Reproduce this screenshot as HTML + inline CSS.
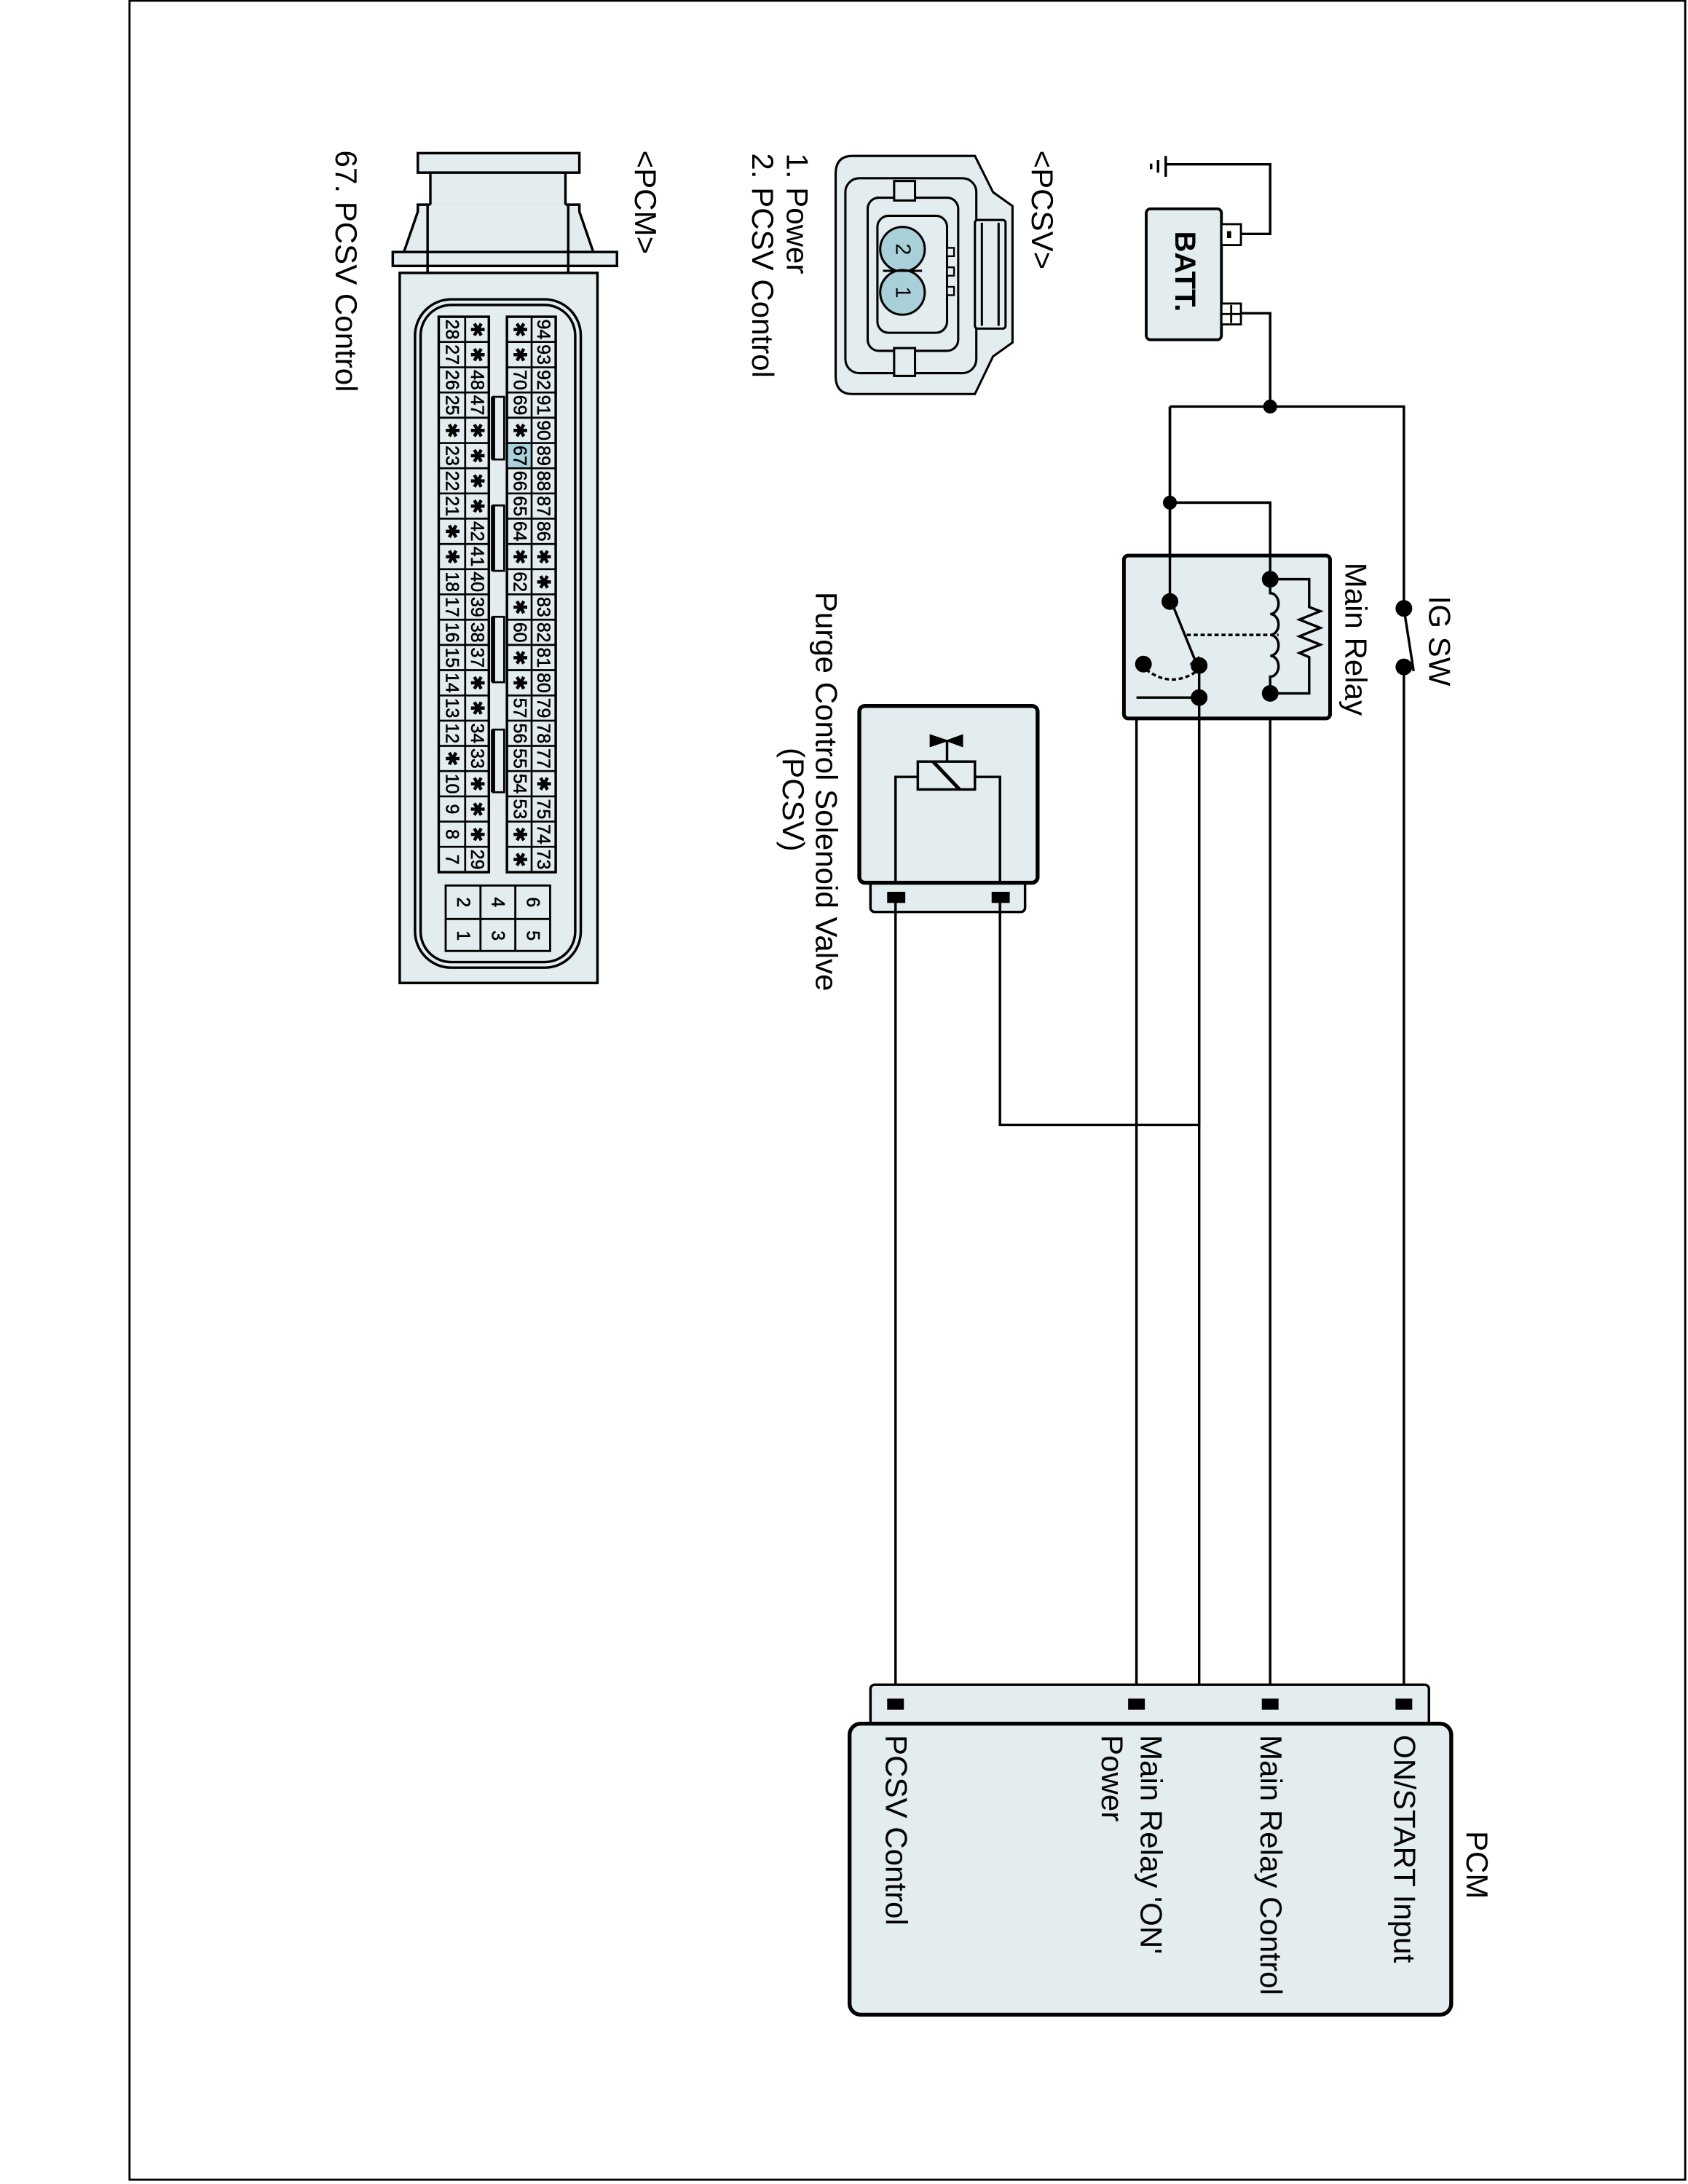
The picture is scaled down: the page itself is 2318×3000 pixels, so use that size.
<!DOCTYPE html>
<html><head><meta charset="utf-8"><style>
html,body{margin:0;padding:0;background:#fff}
svg{display:block}
text{font-family:"Liberation Sans",Arial,sans-serif;fill:#000}
</style></head><body>
<svg width="2318" height="3000" viewBox="0 0 1212 1568.6" xmlns="http://www.w3.org/2000/svg">
<rect x="0" y="0" width="1212" height="1568.6" fill="#fff"/>
<rect x="93" y="0.5" width="1117" height="1565" fill="none" stroke="#000" stroke-width="1.5"/>

<!-- ground + battery -->
<g stroke="#000" stroke-width="1.8" fill="none">
<path d="M837 112V127M831.5 115V124M826.5 117.5V121.5"/>
<path d="M837 118H912V168H891"/>
<path d="M891 225H912V292"/>
</g>
<rect x="823" y="150" width="54" height="94" rx="3" fill="#e3ecee" stroke="#000" stroke-width="2"/>
<rect x="877" y="161" width="14" height="15" fill="#fff" stroke="#000" stroke-width="1.5"/>
<rect x="881" y="166" width="3" height="5" fill="#000"/>
<rect x="877" y="218" width="14" height="15" fill="#fff" stroke="#000" stroke-width="1.5"/>
<path d="M877 225.5H891M884 219V232" stroke="#000" stroke-width="1.5"/>

<!-- wiring -->
<g stroke="#000" stroke-width="1.8" fill="none">
<path d="M840 292H1008V437"/>
<path d="M1008 479V1222"/>
<path d="M1008 437L1015 482"/>
<path d="M840 292V432"/>
<path d="M840 361H912V416"/>
<path d="M912 498V1222"/>
<path d="M861 478V808H718V643"/>
<path d="M861 501H816V1222"/>
<path d="M643 636V1222"/>
</g>

<!-- main relay -->
<rect x="807" y="399" width="148" height="117" rx="3" fill="#e3ecee" stroke="#000" stroke-width="2.6"/>
<g stroke="#000" stroke-width="1.8" fill="none">
<path d="M840 292V432"/>
<path d="M840 361H912V416"/>
<path d="M912 416V426 a6 7.5 0 0 1 0 15 a6 7.5 0 0 1 0 15 a6 7.5 0 0 1 0 15 a6 7.5 0 0 1 0 15 V498"/>
<path d="M912 416H940V436L948 439L933 445L948 451L933 457L948 463L933 469L940 472V498H912"/>
<path d="M841 432L858 474"/>
<path d="M852 456H918" stroke-dasharray="3,2"/>
<path d="M823 481Q840 494 858 483" stroke-dasharray="3,2"/>
<path d="M861 478V1222"/>
<path d="M861 501H816"/>
</g>
<path d="M854 477L862 480L861 471Z" fill="#000"/>
<circle cx="840" cy="432" r="6" fill="#000"/>
<circle cx="861" cy="478" r="6" fill="#000"/>
<circle cx="821" cy="477" r="6" fill="#000"/>
<circle cx="861" cy="501" r="6" fill="#000"/>
<circle cx="912" cy="416" r="6" fill="#000"/>
<circle cx="912" cy="498" r="6" fill="#000"/>
<circle cx="1008" cy="437" r="6" fill="#000"/>
<circle cx="1008" cy="479" r="6" fill="#000"/>
<circle cx="912" cy="292" r="5" fill="#000"/>
<circle cx="840" cy="361" r="5" fill="#000"/>

<!-- PCSV -->
<rect x="625" y="630" width="111" height="25" rx="3" fill="#e3ecee" stroke="#000" stroke-width="1.8"/>
<rect x="617" y="507" width="128" height="127" rx="4" fill="#e3ecee" stroke="#000" stroke-width="2.8"/>
<g stroke="#000" stroke-width="1.8" fill="none">
<path d="M643 634V558H659M700 558H718V634"/>
<rect x="659" y="547" width="41" height="20"/>
<path d="M670 547L689 567" stroke-width="2.6"/>
<path d="M680 547V532"/>
<path d="M643 648V660M718 648V660"/>
</g>
<path d="M668 528L680 532L668 536ZM691 528L680 532L691 536Z" fill="#000" stroke="#000" stroke-width="1"/>
<rect x="637" y="640.5" width="13" height="8" fill="#000"/>
<rect x="712" y="640.5" width="13" height="8" fill="#000"/>

<!-- PCM box -->
<rect x="625" y="1210" width="401" height="30" rx="3" fill="#e3ecee" stroke="#000" stroke-width="1.8"/>
<rect x="610" y="1238" width="432" height="209" rx="8" fill="#e3ecee" stroke="#000" stroke-width="2.8"/>
<rect x="637" y="1220" width="12" height="8" fill="#000"/>
<rect x="810" y="1220" width="12" height="8" fill="#000"/>
<rect x="906" y="1220" width="12" height="8" fill="#000"/>
<rect x="1002" y="1220" width="12" height="8" fill="#000"/>

<!-- PCSV connector -->
<g stroke="#000" stroke-width="1.6" fill="#e3ecee">
<path d="M612 112H700L713 138L727 148V246L713 256L700 283H612Q600 283 600 270V125Q600 112 612 112Z"/>
<rect x="607" y="128" width="94" height="140" rx="10"/>
<rect x="700" y="158" width="22" height="78" rx="2"/>
<path d="M705 160V234M717 160V234" fill="none"/>
<rect x="623" y="142" width="65" height="110" rx="8"/>
<rect x="630" y="155" width="50" height="84" rx="8"/>
<rect x="642" y="130" width="15" height="14"/>
<rect x="642" y="250" width="15" height="20"/>
</g>
<path d="M680 178h5v6h-5zM680 192h5v6h-5zM680 206h5v6h-5z" fill="#e3ecee" stroke="#000" stroke-width="1.2"/>
<g stroke="#000" stroke-width="1.6" fill="#a9d0d9">
<circle cx="648" cy="179" r="16"/>
<circle cx="648" cy="210" r="16"/>
<path d="M634 194.5H662" fill="none"/>
</g>

<!-- PCM connector -->
<g stroke="#000" stroke-width="1.8" fill="#e3ecee">
<rect x="287" y="196" width="142" height="510"/>
<rect x="300" y="110" width="116" height="14"/>
<rect x="309" y="124" width="97" height="24"/>
<path d="M309 147H300V152L290 181H426L416 152V147H406"/>
<rect x="282" y="181" width="161" height="10"/>
<path d="M307 148V196M408 148V196" fill="none"/>
<rect x="298" y="215" width="119" height="480" rx="26"/>
<rect x="302" y="219" width="111" height="472" rx="22"/>
<rect x="315" y="227.5" width="36" height="398.9" fill="#e3ecee"/>
<rect x="364" y="227.5" width="35" height="398.9" fill="#e3ecee"/>
</g>
<rect x="364.8" y="318.2" width="16.9" height="18.1" fill="#a9d3dc"/>
<g stroke="#000" stroke-width="1.4" fill="none">
<path d="M334 227.5V626.4M381.7 227.5V626.4"/>
<path d="M315 245.6H351M364 245.6H399M315 263.8H351M364 263.8H399M315 281.9H351M364 281.9H399M315 300H351M364 300H399M315 318.2H351M364 318.2H399M315 336.3H351M364 336.3H399M315 354.4H351M364 354.4H399M315 372.5H351M364 372.5H399M315 390.7H351M364 390.7H399M315 408.8H351M364 408.8H399M315 426.9H351M364 426.9H399M315 445.1H351M364 445.1H399M315 463.2H351M364 463.2H399M315 481.3H351M364 481.3H399M315 499.5H351M364 499.5H399M315 517.6H351M364 517.6H399M315 535.7H351M364 535.7H399M315 553.8H351M364 553.8H399M315 572H351M364 572H399M315 590.1H351M364 590.1H399M315 608.2H351M364 608.2H399"/>
</g>
<g stroke="#000" stroke-width="1.4" fill="#e3ecee">
<rect x="354" y="285" width="8" height="45"/>
<rect x="354" y="363" width="8" height="47"/>
<rect x="354" y="443" width="8" height="47"/>
<rect x="354" y="524" width="8" height="45"/>
</g>
<path d="M354 285V330M354 363V410M354 443V490M354 524V569" stroke="#000" stroke-width="3"/>
<g stroke="#000" stroke-width="1.5" fill="#e3ecee">
<rect x="320" y="636" width="75" height="47"/>
<path d="M345 636V683M370 636V683M320 660H395" fill="none"/>
</g>

<!-- rotated text -->
<g transform="rotate(90)">
<g font-size="22">
<text x="428" y="-1026">IG SW</text>
<text x="404" y="-966">Main Relay</text>
<text x="425" y="-586">Purge Control Solenoid Valve</text>
<text x="537" y="-562">(PCSV)</text>
<text x="1315" y="-1053">PCM</text>
<text x="1246" y="-1001">ON/START Input</text>
<text x="1246" y="-905">Main Relay Control</text>
<text x="1246" y="-819">Main Relay 'ON'</text>
<text x="1246" y="-791">Power</text>
<text x="1246" y="-636">PCSV Control</text>
<text x="108" y="-741">&lt;PCSV&gt;</text>
<text x="110" y="-565">1. Power</text>
<text x="110" y="-540">2. PCSV Control</text>
<text x="108" y="-456">&lt;PCM&gt;</text>
<text x="108" y="-241">67. PCSV Control</text>
</g>
<text x="166" y="-844" font-size="21" font-weight="bold">BATT.</text>
<g font-size="15" text-anchor="middle" dominant-baseline="central">
<text x="179" y="-648">2</text><text x="210" y="-648">1</text>
</g>
<g font-size="13" text-anchor="middle" dominant-baseline="central" stroke="#000" stroke-width="0.3">
<text x="236.6" y="-390">94</text><text x="254.7" y="-390">93</text><text x="272.9" y="-390">92</text><text x="291" y="-390">91</text><text x="309.1" y="-390">90</text><text x="327.3" y="-390">89</text><text x="345.4" y="-390">88</text><text x="363.5" y="-390">87</text><text x="381.6" y="-390">86</text><text x="399.8" y="-390">✱</text><text x="417.9" y="-390">✱</text><text x="436" y="-390">83</text><text x="454.2" y="-390">82</text><text x="472.3" y="-390">81</text><text x="490.4" y="-390">80</text><text x="508.5" y="-390">79</text><text x="526.7" y="-390">78</text><text x="544.8" y="-390">77</text><text x="562.9" y="-390">✱</text><text x="581.1" y="-390">75</text><text x="599.2" y="-390">74</text><text x="617.3" y="-390">73</text>
<text x="236.6" y="-373">✱</text><text x="254.7" y="-373">✱</text><text x="272.9" y="-373">70</text><text x="291" y="-373">69</text><text x="309.1" y="-373">✱</text><text x="327.3" y="-373">67</text><text x="345.4" y="-373">66</text><text x="363.5" y="-373">65</text><text x="381.6" y="-373">64</text><text x="399.8" y="-373">✱</text><text x="417.9" y="-373">62</text><text x="436" y="-373">✱</text><text x="454.2" y="-373">60</text><text x="472.3" y="-373">✱</text><text x="490.4" y="-373">✱</text><text x="508.5" y="-373">57</text><text x="526.7" y="-373">56</text><text x="544.8" y="-373">55</text><text x="562.9" y="-373">54</text><text x="581.1" y="-373">53</text><text x="599.2" y="-373">✱</text><text x="617.3" y="-373">✱</text>
<text x="236.6" y="-342.5">✱</text><text x="254.7" y="-342.5">✱</text><text x="272.9" y="-342.5">48</text><text x="291" y="-342.5">47</text><text x="309.1" y="-342.5">✱</text><text x="327.3" y="-342.5">✱</text><text x="345.4" y="-342.5">✱</text><text x="363.5" y="-342.5">✱</text><text x="381.6" y="-342.5">42</text><text x="399.8" y="-342.5">41</text><text x="417.9" y="-342.5">40</text><text x="436" y="-342.5">39</text><text x="454.2" y="-342.5">38</text><text x="472.3" y="-342.5">37</text><text x="490.4" y="-342.5">✱</text><text x="508.5" y="-342.5">✱</text><text x="526.7" y="-342.5">34</text><text x="544.8" y="-342.5">33</text><text x="562.9" y="-342.5">✱</text><text x="581.1" y="-342.5">✱</text><text x="599.2" y="-342.5">✱</text><text x="617.3" y="-342.5">29</text>
<text x="236.6" y="-324.5">28</text><text x="254.7" y="-324.5">27</text><text x="272.9" y="-324.5">26</text><text x="291" y="-324.5">25</text><text x="309.1" y="-324.5">✱</text><text x="327.3" y="-324.5">23</text><text x="345.4" y="-324.5">22</text><text x="363.5" y="-324.5">21</text><text x="381.6" y="-324.5">✱</text><text x="399.8" y="-324.5">✱</text><text x="417.9" y="-324.5">18</text><text x="436" y="-324.5">17</text><text x="454.2" y="-324.5">16</text><text x="472.3" y="-324.5">15</text><text x="490.4" y="-324.5">14</text><text x="508.5" y="-324.5">13</text><text x="526.7" y="-324.5">12</text><text x="544.8" y="-324.5">✱</text><text x="562.9" y="-324.5">10</text><text x="581.1" y="-324.5">9</text><text x="599.2" y="-324.5">8</text><text x="617.3" y="-324.5">7</text>
<text x="648" y="-332.5">2</text><text x="672" y="-332.5">1</text>
<text x="648" y="-357.5">4</text><text x="672" y="-357.5">3</text>
<text x="648" y="-382.5">6</text><text x="672" y="-382.5">5</text>
</g>
</g>
</svg>
</body></html>
